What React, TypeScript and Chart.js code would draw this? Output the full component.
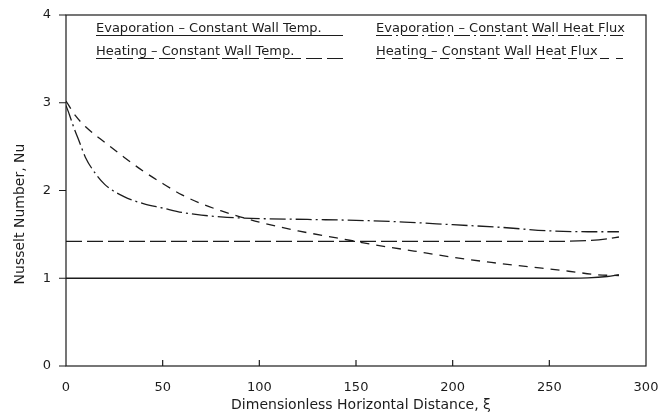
import React, { useEffect, useRef } from "react";
import { Chart, registerables } from "chart.js";

Chart.register(...registerables);

const FONT = "'DejaVu Sans', 'Liberation Sans', sans-serif";
const INK = "#1c1c1c";

// Axis ticks
const xTicks = [0, 50, 100, 150, 200, 250, 300];
const yTicks = [0, 1, 2, 3, 4];

// Series labels
const seriesLabels = [
  "Evaporation – Constant Wall Temp.",
  "Evaporation – Constant Wall Heat Flux",
  "Heating – Constant Wall Temp.",
  "Heating – Constant Wall Heat Flux",
];

// Evaporation – constant wall temperature (solid)
const evapTempX = [0, 50, 100, 150, 200, 250, 270, 280, 286];
const evapTempY = [1.0, 1.0, 1.0, 1.0, 1.0, 1.0, 1.005, 1.02, 1.04];

// Evaporation – constant wall heat flux (dash-dot)
const evapFluxX = [0, 2, 4, 7, 10, 15, 20, 30, 40, 50, 60, 70, 80, 100, 125, 150, 175, 200, 225, 250, 270, 286];
const evapFluxY = [2.97, 2.85, 2.72, 2.55, 2.38, 2.2, 2.07, 1.93, 1.85, 1.8, 1.75, 1.72, 1.7, 1.68, 1.67, 1.66, 1.64, 1.61, 1.58, 1.54, 1.53, 1.53];

// Heating – constant wall temperature (long dash)
const heatTempX = [0, 50, 100, 150, 200, 250, 270, 280, 286];
const heatTempY = [1.42, 1.42, 1.42, 1.42, 1.42, 1.42, 1.43, 1.45, 1.47];

// Heating – constant wall heat flux (short dash)
const heatFluxX = [0, 5, 10, 20, 30, 40, 50, 60, 70, 80, 90, 100, 120, 140, 160, 180, 200, 220, 240, 260, 275, 286];
const heatFluxY = [3.02, 2.85, 2.73, 2.55, 2.38, 2.22, 2.08, 1.95, 1.85, 1.77, 1.7, 1.64, 1.54, 1.46, 1.38, 1.31, 1.24, 1.18, 1.13, 1.08, 1.04, 1.03];

const xTitle = "Dimensionless Horizontal Distance, ξ";
const yTitle = "Nusselt Number, Nu";

const dashes: number[][] = [[], [16, 4, 2, 4], [16, 5], [9, 7]];

const pts = (xs: number[], ys: number[]) => xs.map((x, i) => ({ x, y: ys[i] }));

const framePlugin = {
  id: "frameAndLegend",
  afterDraw(chart: any) {
    const { ctx, chartArea } = chart;
    const { left, right, top, bottom } = chartArea;
    const xs = chart.scales.x;
    const ys = chart.scales.y;
    ctx.save();
    ctx.strokeStyle = INK;
    ctx.lineWidth = 1.2;
    ctx.setLineDash([]);
    // plot frame
    ctx.strokeRect(left, top, right - left, bottom - top);
    // y ticks point outward
    ctx.beginPath();
    yTicks.forEach((v) => {
      const py = ys.getPixelForValue(v);
      ctx.moveTo(left - 7, py);
      ctx.lineTo(left, py);
    });
    // x ticks point inward
    xTicks.forEach((v) => {
      if (v === xTicks[0] || v === xTicks[xTicks.length - 1]) return;
      const px = xs.getPixelForValue(v);
      ctx.moveTo(px, bottom);
      ctx.lineTo(px, bottom - 6);
    });
    ctx.stroke();

    // axis titles
    ctx.fillStyle = INK;
    ctx.font = `14px ${FONT}`;
    ctx.textAlign = "center";
    ctx.textBaseline = "middle";
    ctx.fillText(xTitle, (left + right) / 2 + 5, 405);
    ctx.save();
    ctx.translate(20, 214);
    ctx.rotate(-Math.PI / 2);
    ctx.fillText(yTitle, 0, 0);
    ctx.restore();

    // legend: label text with a line sample underneath
    const cols = [96, 376];
    const lineEnd = [343, 623];
    const rows = [32, 55];
    ctx.font = `13px ${FONT}`;
    ctx.textAlign = "left";
    ctx.textBaseline = "alphabetic";
    const grid = [
      [0, 2],
      [1, 3],
    ];
    for (let c = 0; c < 2; c++) {
      for (let r = 0; r < 2; r++) {
        const di = grid[c][r];
        ctx.fillText(seriesLabels[di], cols[c], rows[r]);
        ctx.beginPath();
        ctx.setLineDash(dashes[di]);
        ctx.lineWidth = 1.2;
        ctx.moveTo(cols[c], rows[r] + 3.5);
        ctx.lineTo(lineEnd[c], rows[r] + 3.5);
        ctx.stroke();
      }
    }
    ctx.restore();
  },
};

export default function App() {
  const ref = useRef<HTMLCanvasElement | null>(null);

  useEffect(() => {
    if (!ref.current) return;
    const series = [
      pts(evapTempX, evapTempY),
      pts(evapFluxX, evapFluxY),
      pts(heatTempX, heatTempY),
      pts(heatFluxX, heatFluxY),
    ];
    const chart = new Chart(ref.current, {
      type: "line",
      data: {
        datasets: series.map((data, i) => ({
          label: seriesLabels[i],
          data,
          borderColor: INK,
          borderWidth: 1.3,
          borderDash: dashes[i],
          pointRadius: 0,
          fill: false,
          cubicInterpolationMode: "monotone" as const,
        })),
      },
      options: {
        animation: false,
        responsive: false,
        maintainAspectRatio: false,
        devicePixelRatio: 1,
        layout: { padding: { top: 15, right: 14, left: 0, bottom: 0 } },
        plugins: { legend: { display: false }, tooltip: { enabled: false } },
        scales: {
          x: {
            type: "linear",
            min: 0,
            max: 300,
            afterBuildTicks: (s: any) => {
              s.ticks = xTicks.map((value) => ({ value }));
            },
            afterFit: (s: any) => {
              s.height = 50;
              s.paddingLeft = 0;
              s.paddingRight = 0;
            },
            grid: { display: false, drawTicks: false },
            border: { display: false },
            ticks: { color: INK, font: { family: FONT, size: 13 }, padding: 14, maxRotation: 0 },
          },
          y: {
            type: "linear",
            min: 0,
            max: 4,
            afterBuildTicks: (s: any) => {
              s.ticks = yTicks.map((value) => ({ value }));
            },
            afterFit: (s: any) => {
              s.width = 66;
              s.paddingTop = 0;
              s.paddingBottom = 0;
            },
            grid: { display: false, drawTicks: false },
            border: { display: false },
            ticks: { color: INK, font: { family: FONT, size: 13 }, padding: 15 },
          },
        },
      },
      plugins: [framePlugin],
    });
    return () => chart.destroy();
  }, []);

  return (
    <div style={{ position: "absolute", left: 0, top: 0, width: 660, height: 416, background: "#fff" }}>
      <canvas ref={ref} width={660} height={416} />
    </div>
  );
}
